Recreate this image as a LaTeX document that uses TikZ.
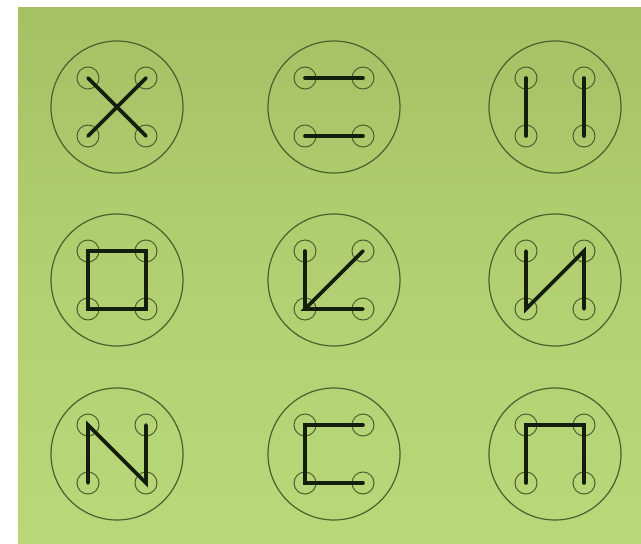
\documentclass[tikz,border=0pt]{standalone}
\usetikzlibrary{calc}
\definecolor{bgdark}{RGB}{166,192,100}
\definecolor{bgmid}{RGB}{178,208,114}
\definecolor{bglight}{RGB}{184,216,122}
\definecolor{rim}{RGB}{76,96,44}
\definecolor{thread}{RGB}{20,30,12}
\tikzset{
  outerrim/.style={circle,draw=rim,line width=1.2pt,minimum size=132pt,inner sep=0pt},
  hole/.style={circle,draw=rim,line width=1.0pt,minimum size=22pt,inner sep=0pt},
  stitch/.style={draw=thread,line width=3.6pt,line cap=round,line join=miter}
}
\newcommand{\btnmk}[3]{%
  \node[outerrim] (#1) at (#2,#3) {};
  \node[hole] (#1tl) at (#2-29,#3-29) {};
  \node[hole] (#1tr) at (#2+29,#3-29) {};
  \node[hole] (#1bl) at (#2-29,#3+29) {};
  \node[hole] (#1br) at (#2+29,#3+29) {};
}
\begin{document}
\begin{tikzpicture}[x=1pt,y=-1pt]
\useasboundingbox (0,0) rectangle (641,544);
\fill[white] (0,0) rectangle (641,544);
\shade[top color=bgdark,bottom color=bglight,middle color=bgmid] (18,7) rectangle (641,544);
% row 1
\btnmk{a}{117}{107}
\btnmk{b}{334}{107}
\btnmk{c}{555}{107}
% row 2
\btnmk{d}{117}{280}
\btnmk{e}{334}{280}
\btnmk{f}{555}{280}
% row 3
\btnmk{g}{117}{454}
\btnmk{h}{334}{454}
\btnmk{i}{555}{454}
% stitches
\draw[stitch] (atl.center) -- (abr.center);
\draw[stitch] (atr.center) -- (abl.center);
\draw[stitch] (btl.center) -- (btr.center);
\draw[stitch] (bbl.center) -- (bbr.center);
\draw[stitch] (ctl.center) -- (cbl.center);
\draw[stitch] (ctr.center) -- (cbr.center);
\draw[stitch] (dtl.center) -- (dtr.center) -- (dbr.center) -- (dbl.center) -- cycle;
\draw[stitch] (etl.center) -- (ebl.center);
\draw[stitch] (etr.center) -- (ebl.center) -- (ebr.center);
\draw[stitch] (ftl.center) -- (fbl.center) -- (ftr.center) -- (fbr.center);
\draw[stitch] (gbl.center) -- (gtl.center) -- (gbr.center) -- (gtr.center);
\draw[stitch] (htr.center) -- (htl.center) -- (hbl.center) -- (hbr.center);
\draw[stitch] (ibl.center) -- (itl.center) -- (itr.center) -- (ibr.center);
\end{tikzpicture}
\end{document}
